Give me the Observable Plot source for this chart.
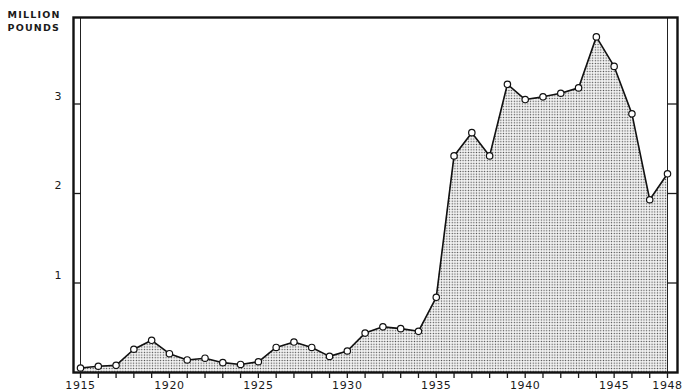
<!DOCTYPE html>
<html><head><meta charset="utf-8">
<script src="https://cdn.jsdelivr.net/npm/d3@7"></script>
<script src="https://cdn.jsdelivr.net/npm/@observablehq/plot@0.6"></script>
<style>
body{margin:0;background:#fff;}
#chart svg{display:block;}
#chart g[aria-label="text"] text{letter-spacing:1.2px;}
#chart g[aria-label="x-axis tick label"] text{letter-spacing:0.6px;}
</style>
</head><body>
<svg width="0" height="0" style="position:absolute"><defs>
<pattern id="stipple" width="2.7" height="2.7" patternUnits="userSpaceOnUse">
<rect width="2.7" height="2.7" fill="#f2f2f2"/>
<circle cx="1.35" cy="1.35" r="0.7" fill="#444"/>
</pattern></defs></svg>
<div id="chart"></div>
<script>
const years = [1915,1916,1917,1918,1919,1920,1921,1922,1923,1924,1925,1926,1927,1928,1929,1930,1931,1932,1933,1934,1935,1936,1937,1938,1939,1940,1941,1942,1943,1944,1945,1946,1947,1948];
const values = [0.05,0.07,0.08,0.26,0.36,0.21,0.14,0.16,0.11,0.09,0.12,0.28,0.34,0.28,0.18,0.24,0.44,0.51,0.49,0.46,0.84,2.42,2.68,2.42,3.22,3.05,3.08,3.12,3.18,3.75,3.42,2.89,1.93,2.22];
const yTicks = [1,2,3];
const xLabelYears = [1915,1920,1925,1930,1935,1940,1945,1948];
const unitLabel = ["MILLION","POUNDS"];

const data = years.map((year,i)=>({year, value: values[i]}));

const chart = Plot.plot({
  width:683, height:392,
  marginLeft:73, marginRight:6, marginTop:17, marginBottom:20,
  style:{fontFamily:"DejaVu Sans", background:"#fff", color:"#1a1a1a"},
  x:{domain:[years[0], years[years.length-1]], range:[80,667], label:null},
  y:{domain:[0,4], range:[372,14], label:null},
  marks:[
    Plot.areaY(data,{x:"year", y:"value", fill:"url(#stipple)"}),
    Plot.ruleX([years[0], years[years.length-1]], {stroke:"#222", strokeWidth:1}),
    Plot.frame({stroke:"#111", strokeWidth:2.4}),
    Plot.axisY(yTicks,{anchor:"left", tickSize:-8, strokeWidth:1.3, tickFormat:()=>"", label:null}),
    Plot.axisY(yTicks,{anchor:"left", tickSize:0, tickPadding:12, fontSize:11, dy:-8, tickFormat:d=>String(d), label:null}),
    Plot.axisY(yTicks,{anchor:"right", tickSize:-11, strokeWidth:1.3, tickFormat:()=>"", label:null}),
    Plot.axisX(years,{anchor:"bottom", tickSize:6, tickPadding:3, fontSize:11, strokeWidth:1.3, tickFormat:d=>xLabelYears.includes(d)?String(d):"", label:null}),
    Plot.line(data,{x:"year", y:"value", stroke:"#111", strokeWidth:1.6}),
    Plot.dot(data,{x:"year", y:"value", r:3.2, fill:"white", stroke:"#111", strokeWidth:1.2}),
    Plot.text([unitLabel.join("\n")],{frameAnchor:"top-left", dx:-66, dy:-9, textAnchor:"start", lineAnchor:"top", lineHeight:1.37, fontSize:9.5, fontWeight:"bold", fill:"#1a1a1a"})
  ]
});
document.getElementById("chart").append(chart);
</script>
</body></html>
